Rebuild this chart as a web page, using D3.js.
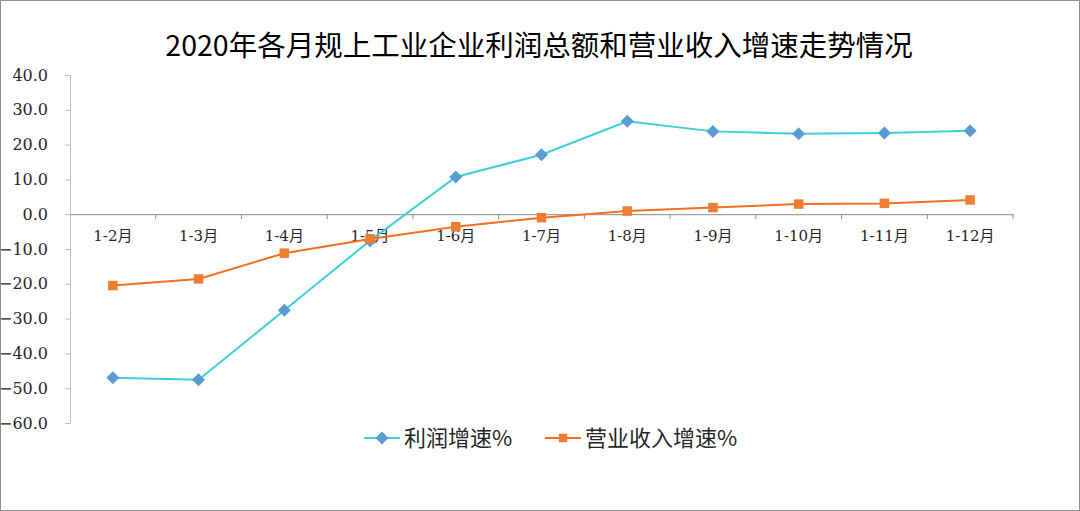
<!DOCTYPE html>
<html>
<head>
<meta charset="utf-8">
<script src="https://cdn.jsdelivr.net/npm/d3@7"></script>
<style>
  body { margin: 0; background: #fff; }
  svg { display: block; }
</style>
</head>
<body>
<script>
// data
var months = ["1-2月", "1-3月", "1-4月", "1-5月", "1-6月", "1-7月", "1-8月", "1-9月", "1-10月", "1-11月", "1-12月"];
var profitGrowth = [-47.0, -47.6, -27.6, -7.6, 10.7, 17.1, 26.7, 23.8, 23.1, 23.3, 24.0];
var revenueGrowth = [-20.5, -18.6, -11.2, -7.1, -3.6, -1.0, 0.9, 1.9, 2.9, 3.1, 4.1];
var yTicks = [40, 30, 20, 10, 0, -10, -20, -30, -40, -50, -60];

var W = 1080, H = 511;
var margin = {top: 75, right: 67, bottom: 88, left: 70},
    width = W - margin.left - margin.right,
    height = H - margin.top - margin.bottom;

var numFont = "'DejaVu Serif', 'Noto Sans CJK SC', serif";
var cjkFont = "'Noto Sans CJK SC', sans-serif";

var svg = d3.select("body").append("svg")
    .attr("width", W)
    .attr("height", H);

// outer frame
svg.append("rect")
    .attr("x", 0.5).attr("y", 0.5)
    .attr("width", W - 1).attr("height", H - 1)
    .attr("fill", "#fff")
    .attr("stroke", "#8c8c8c");

// title
svg.append("text")
    .attr("x", 539).attr("y", 56)
    .attr("text-anchor", "middle")
    .style("font-family", cjkFont)
    .style("font-size", "28.5px")
    .style("fill", "#000")
    .text("2020年各月规上工业企业利润总额和营业收入增速走势情况");

var g = svg.append("g")
    .attr("transform", "translate(" + margin.left + "," + margin.top + ")");

var x = d3.scaleBand().domain(months).range([0, width]);
var y = d3.scaleLinear().domain([-60, 40]).range([height, 0]);

// y axis
var yAxis = g.append("g")
    .call(d3.axisLeft(y).tickValues(yTicks).tickSize(5).tickPadding(17)
      .tickFormat(function(d) { return d3.format(".1f")(d); }));
yAxis.select(".domain").attr("stroke", "#bfbfbf");
yAxis.selectAll(".tick line").attr("stroke", "#bfbfbf");
yAxis.selectAll("text")
    .style("font-family", numFont)
    .style("font-size", "16px")
    .style("fill", "#262626");

// x axis on zero line
var xAxis = g.append("g")
    .attr("transform", "translate(0," + y(0) + ")")
    .call(d3.axisBottom(x).tickSize(0).tickPadding(16));
xAxis.select(".domain").attr("stroke", "#8c8c8c");
xAxis.selectAll("text")
    .style("font-family", numFont)
    .style("font-size", "15px")
    .style("fill", "#262626");

// tick marks between categories
g.append("g").selectAll("line")
    .data(months)
  .enter().append("line")
    .attr("x1", function(d, i) { return x.step() * (i + 1); })
    .attr("x2", function(d, i) { return x.step() * (i + 1); })
    .attr("y1", y(0))
    .attr("y2", y(0) + 5)
    .attr("stroke", "#8c8c8c");

var cx = function(d, i) { return x(months[i]) + x.bandwidth() / 2; };

var line = d3.line()
    .x(cx)
    .y(function(d) { return y(d); });

// square diamond marker
var diamond = function() { return "M0,-6.5L6.5,0L0,6.5L-6.5,0Z"; };
var square = d3.symbol().type(d3.symbolSquare).size(90);

// profit series
g.append("path")
    .datum(profitGrowth)
    .attr("fill", "none")
    .attr("stroke", "#3fcfd5")
    .attr("stroke-width", 2)
    .attr("d", line);

g.selectAll(".profit")
    .data(profitGrowth)
  .enter().append("path")
    .attr("class", "profit")
    .attr("d", diamond)
    .attr("fill", "#5b9bd5")
    .attr("transform", function(d, i) { return "translate(" + cx(d, i) + "," + y(d) + ")"; });

// revenue series
g.append("path")
    .datum(revenueGrowth)
    .attr("fill", "none")
    .attr("stroke", "#f86e1c")
    .attr("stroke-width", 2)
    .attr("d", line);

g.selectAll(".revenue")
    .data(revenueGrowth)
  .enter().append("path")
    .attr("class", "revenue")
    .attr("d", square)
    .attr("fill", "#ed7d31")
    .attr("transform", function(d, i) { return "translate(" + cx(d, i) + "," + y(d) + ")"; });

// legend
var legend = [
  {name: "利润增速%", x: 364, stroke: "#3fcfd5", fill: "#5b9bd5", sym: diamond},
  {name: "营业收入增速%", x: 545, stroke: "#f86e1c", fill: "#ed7d31", sym: d3.symbol().type(d3.symbolSquare).size(70)}
];
var lg = svg.append("g").selectAll("g")
    .data(legend)
  .enter().append("g")
    .attr("transform", function(d) { return "translate(" + d.x + ",438)"; });
lg.append("line")
    .attr("x1", 0).attr("x2", 36)
    .attr("stroke", function(d) { return d.stroke; })
    .attr("stroke-width", 2);
lg.append("path")
    .attr("d", function(d) { return d.sym(); })
    .attr("transform", "translate(18,0)")
    .attr("fill", function(d) { return d.fill; });
lg.append("text")
    .attr("x", 40).attr("y", 8)
    .style("font-family", cjkFont)
    .style("font-size", "22px")
    .style("fill", "#262626")
    .text(function(d) { return d.name; });
</script>
</body>
</html>
